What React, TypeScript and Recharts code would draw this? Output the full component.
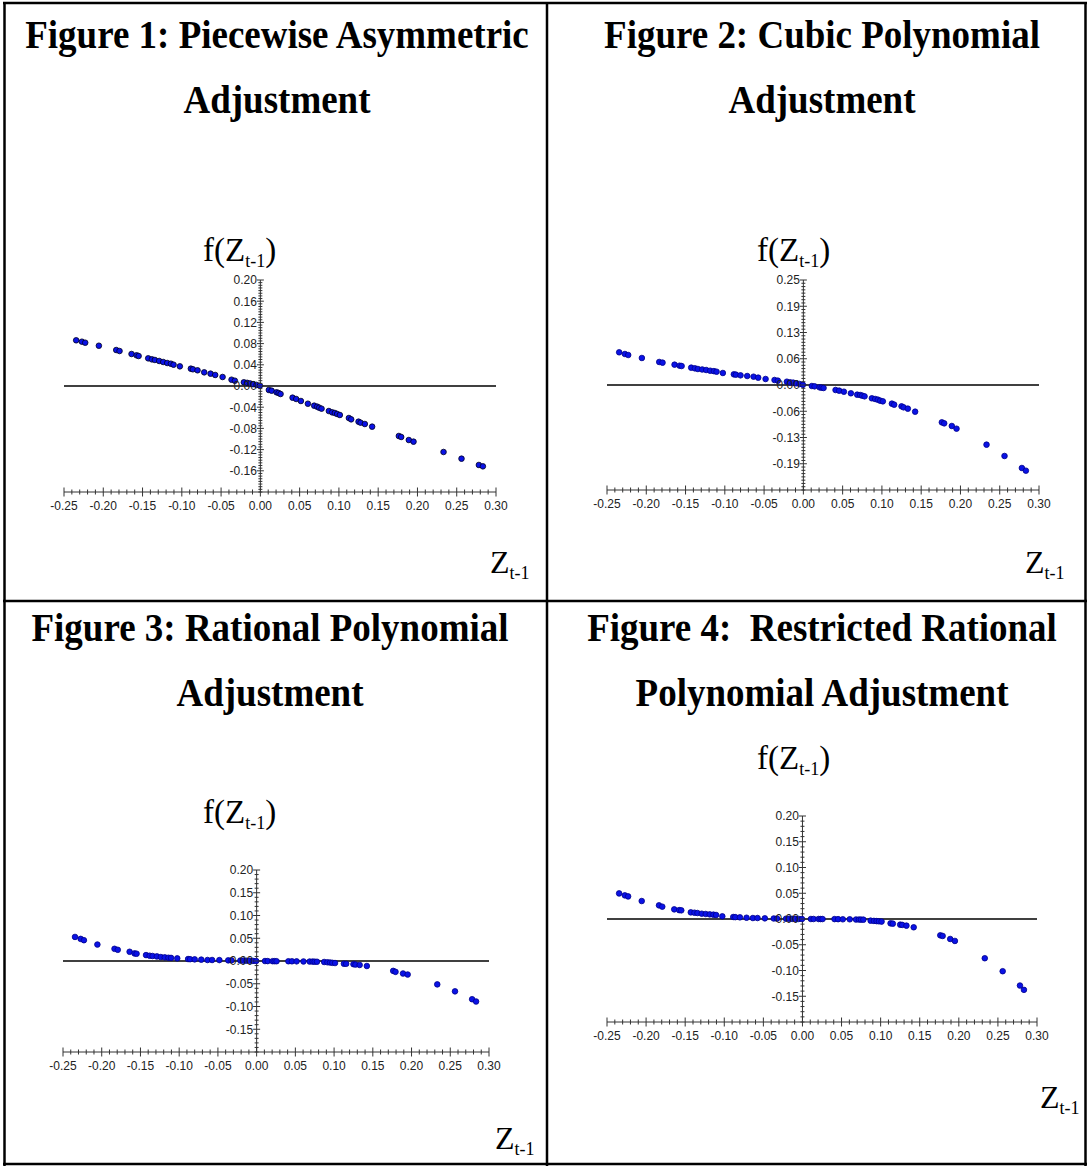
import React from "react";
import { ScatterChart, Scatter, XAxis, YAxis, ReferenceLine } from "recharts";

// lagged disequilibrium Z(t-1), shared by all four figures
const zLag = [
  -0.2345, -0.2272, -0.223, -0.2056, -0.1835, -0.1793, -0.164, -0.1576, -0.155, -0.1428,
  -0.1381, -0.1343, -0.1288, -0.1237, -0.1186, -0.1139, -0.1105, -0.1025, -0.0885, -0.0859,
  -0.08, -0.0715, -0.0634, -0.0575, -0.0481, -0.0367, -0.0325, -0.021, -0.0168, -0.013,
  -0.0092, -0.0048, -0.0006, 0.0108, 0.0143, 0.0206, 0.0232, 0.0257, 0.041, 0.0456,
  0.0516, 0.0605, 0.0685, 0.0723, 0.0749, 0.0779, 0.0872, 0.0914, 0.0948, 0.0978,
  0.1012, 0.1127, 0.1156, 0.125, 0.1276, 0.133, 0.1423, 0.1763, 0.1793, 0.189,
  0.195, 0.2332, 0.2561, 0.2782, 0.2833,
];

const fPiecewise = [
  0.0862, 0.0836, 0.0817, 0.076, 0.0679, 0.066, 0.0604, 0.0579, 0.0566, 0.0522,
  0.0503, 0.0491, 0.0472, 0.0453, 0.0434, 0.0421, 0.0402, 0.0371, 0.0327, 0.0315,
  0.0296, 0.0258, 0.0233, 0.0208, 0.017, 0.0119, 0.01, 0.007, 0.006, 0.0048,
  0.0035, 0.002, 0.0005, -0.0075, -0.0088, -0.0119, -0.0132, -0.0151, -0.022, -0.0245,
  -0.0283, -0.0334, -0.0371, -0.039, -0.0409, -0.0428, -0.0472, -0.0497, -0.0509, -0.0528,
  -0.0547, -0.0604, -0.0629, -0.0673, -0.0692, -0.0717, -0.0767, -0.0943, -0.0962, -0.1019,
  -0.105, -0.1245, -0.1371, -0.149, -0.1516,
];

const fCubic = [
  0.0778, 0.0738, 0.0714, 0.0643, 0.0548, 0.0532, 0.0484, 0.046, 0.0452, 0.0413,
  0.0397, 0.0381, 0.037, 0.0357, 0.034, 0.033, 0.0317, 0.0286, 0.0254, 0.0246,
  0.023, 0.0214, 0.0198, 0.0175, 0.0143, 0.0119, 0.0103, 0.0079, 0.0063, 0.0056,
  0.004, 0.0024, 0.0005, -0.0024, -0.0032, -0.0056, -0.0063, -0.0071, -0.0119, -0.0135,
  -0.0159, -0.0198, -0.023, -0.0238, -0.0254, -0.027, -0.0317, -0.0333, -0.0349, -0.0373,
  -0.0389, -0.0444, -0.0468, -0.0508, -0.0532, -0.0563, -0.0635, -0.0889, -0.0913, -0.0976,
  -0.104, -0.142, -0.169, -0.1976, -0.204,
];

const fRational = [
  0.0529, 0.0486, 0.0457, 0.0362, 0.0268, 0.0246, 0.0203, 0.0167, 0.016, 0.013,
  0.0116, 0.011, 0.0101, 0.0087, 0.008, 0.0072, 0.0068, 0.0058, 0.0043, 0.004,
  0.0036, 0.003, 0.0022, 0.0022, 0.002, 0.0014, 0.0014, 0.001, 0.0008, 0.0006,
  0.0004, 0.0002, 0.0, -0.0001, -0.0002, -0.0004, -0.0004, -0.0005, -0.0006, -0.0007,
  -0.0008, -0.001, -0.0012, -0.0013, -0.0015, -0.0016, -0.0022, -0.0028, -0.0034, -0.004,
  -0.0045, -0.006, -0.0062, -0.007, -0.0078, -0.0087, -0.011, -0.0217, -0.0239, -0.0275,
  -0.0297, -0.0514, -0.0667, -0.084, -0.089,
];

const fRestricted = [
  0.0497, 0.0459, 0.0439, 0.0349, 0.0265, 0.0239, 0.0187, 0.0172, 0.0168, 0.0129,
  0.0122, 0.0116, 0.0103, 0.0097, 0.009, 0.0084, 0.0078, 0.0052, 0.0039, 0.0036,
  0.0032, 0.0025, 0.0019, 0.0019, 0.0013, 0.001, 0.0008, 0.0006, 0.0004, 0.0003,
  0.0002, 0.0001, 0.0, 0.0, 0.0, 0.0, -0.0001, -0.0001, -0.0002, -0.0003,
  -0.0006, -0.0006, -0.001, -0.0011, -0.0012, -0.0013, -0.0032, -0.0037, -0.0041, -0.0045,
  -0.005, -0.0084, -0.009, -0.011, -0.0115, -0.0129, -0.0161, -0.0317, -0.0329, -0.0388,
  -0.0426, -0.0762, -0.1014, -0.1292, -0.1376,
];

const xTicks = [-0.25, -0.2, -0.15, -0.1, -0.05, 0, 0.05, 0.1, 0.15, 0.2, 0.25, 0.3];
const yTicksPiecewise = [0.2, 0.16, 0.12, 0.08, 0.04, 0, -0.04, -0.08, -0.12, -0.16];
const yTicksCubic = [0.25, 0.1875, 0.125, 0.0625, 0, -0.0625, -0.125, -0.1875];
const yTicksRational = [0.2, 0.15, 0.1, 0.05, 0, -0.05, -0.1, -0.15];

const titles = [
  ["Figure 1: Piecewise Asymmetric", "Adjustment"],
  ["Figure 2: Cubic Polynomial", "Adjustment"],
  ["Figure 3: Rational Polynomial", "Adjustment"],
  ["Figure 4:  Restricted Rational", "Polynomial Adjustment"],
];

const X_MIN = -0.25;
const X_MAX = 0.3;
const M = { top: 10, right: 22, bottom: 4, left: 14 };
const Y_W = 10;
const X_H = 30;
const SANS = "'Liberation Sans', Arial, sans-serif";
const SERIF = "'Liberation Serif', 'Times New Roman', serif";

function steps(from: number, to: number, step: number) {
  const out: number[] = [];
  const n = Math.round((to - from) / step);
  for (let i = 0; i <= n; i++) out.push(+(from + i * step).toFixed(6));
  return out;
}

const isMajor = (v: number, list: number[]) => list.some((t) => Math.abs(t - v) < 1e-6);

interface Spec {
  left: number;
  top: number;
  w: number;
  h: number;
  yMin: number;
  yMax: number;
  yMajor: number[];
  yMinorStep: number;
  values: number[];
  edge: string;
}

const specs: Spec[] = [
  { left: 64, top: 280, w: 432, h: 212, yMin: -0.2, yMax: 0.2, yMajor: yTicksPiecewise, yMinorStep: 0.005, values: fPiecewise, edge: "#000022" },
  { left: 607, top: 280, w: 432, h: 210, yMin: -0.25, yMax: 0.25, yMajor: yTicksCubic, yMinorStep: 0.0078125, values: fCubic, edge: "#00008a" },
  { left: 63, top: 870, w: 426, h: 182, yMin: -0.2, yMax: 0.2, yMajor: yTicksRational, yMinorStep: 0.01, values: fRational, edge: "#00008a" },
  { left: 607, top: 816, w: 430, h: 206, yMin: -0.2, yMax: 0.2, yMajor: yTicksRational, yMinorStep: 0.01, values: fRestricted, edge: "#00008a" },
];

function Panel({ spec }: { spec: Spec }) {
  const width = spec.w + M.left + Y_W + M.right;
  const height = spec.h + M.top + X_H + M.bottom;
  const zeroX = M.left + Y_W + (spec.w * (0 - X_MIN)) / (X_MAX - X_MIN);
  const axisY = M.top + spec.h;
  const data = zLag.map((z, i) => ({ z, f: spec.values[i] }));
  const xAll = steps(X_MIN, X_MAX, 0.01);
  const yAll = steps(spec.yMin, spec.yMax, spec.yMinorStep);

  const xTick = (p: any) => {
    const v = p.payload.value;
    const major = isMajor(v, xTicks);
    const s = major ? 4.5 : 2.5;
    return (
      <g>
        <line x1={p.x} x2={p.x} y1={axisY - s} y2={axisY + s} stroke="#333" strokeWidth={1} />
        {major && (
          <text x={p.x} y={axisY + 18} textAnchor="middle" fontFamily={SANS} fontSize={12} fill="#222">
            {v.toFixed(2)}
          </text>
        )}
      </g>
    );
  };

  const yTick = (p: any) => {
    const v = p.payload.value;
    const major = isMajor(v, spec.yMajor);
    const s = major ? 3.5 : 2;
    return (
      <g>
        <line x1={zeroX - s} x2={zeroX + s} y1={p.y} y2={p.y} stroke="#333" strokeWidth={1} />
        {major && (
          <text x={zeroX - 3.5} y={p.y + 4.3} textAnchor="end" fontFamily={SANS} fontSize={12} fill="#222">
            {v.toFixed(2)}
          </text>
        )}
      </g>
    );
  };

  const dot = (p: any) => (
    <circle cx={p.cx} cy={p.cy} r={2.8} fill="#0a12e6" stroke={spec.edge} strokeWidth={0.8} />
  );

  return (
    <div style={{ position: "absolute", left: spec.left - M.left - Y_W, top: spec.top - M.top }}>
      <ScatterChart width={width} height={height} margin={M}>
        <XAxis
          type="number"
          dataKey="z"
          domain={[X_MIN, X_MAX]}
          ticks={xAll}
          interval={0}
          height={X_H}
          tickLine={false}
          tickSize={0}
          axisLine={{ stroke: "#333" }}
          tick={xTick}
          allowDataOverflow
        />
        <YAxis
          type="number"
          dataKey="f"
          domain={[spec.yMin, spec.yMax]}
          ticks={yAll}
          interval={0}
          width={Y_W}
          tickLine={false}
          tickSize={0}
          axisLine={false}
          tick={yTick}
          allowDataOverflow
        />
        <ReferenceLine x={0} stroke="#333" strokeWidth={1} />
        <ReferenceLine y={0} stroke="#000" strokeWidth={1.3} />
        <Scatter data={data} isAnimationActive={false} shape={dot} />
      </ScatterChart>
    </div>
  );
}

// text anchors for the four cells: title centre, f(Z) label, Z label
const cells = [
  { cx: 277, t1: 48, t2: 113, fx: 203, fy: 261, zx: 490, zy: 573 },
  { cx: 822, t1: 48, t2: 113, fx: 757, fy: 261, zx: 1025, zy: 573 },
  { cx: 270, t1: 641, t2: 706, fx: 203, fy: 823, zx: 495, zy: 1149 },
  { cx: 822, t1: 641, t2: 706, fx: 757, fy: 769, zx: 1040, zy: 1108 },
];

const Title = ({ x, y, text }: { x: number; y: number; text: string }) => (
  <text
    transform={`translate(${x},${y}) scale(1,1.1)`}
    textAnchor="middle"
    fontFamily={SERIF}
    fontWeight="bold"
    fontSize={37}
    style={{ whiteSpace: "pre" }}
  >
    {text}
  </text>
);

export default function App() {
  return (
    <div style={{ position: "absolute", left: 0, top: 0, width: 1087, height: 1167, background: "#fff" }}>
      {specs.map((s, i) => (
        <Panel key={i} spec={s} />
      ))}
      <svg width={1087} height={1167} style={{ position: "absolute", left: 0, top: 0, pointerEvents: "none" }}>
        <g stroke="#000" strokeWidth={2.5}>
          <line x1={3} y1={3} x2={1087} y2={3} />
          <line x1={3} y1={1164} x2={1087} y2={1164} />
          <line x1={4.5} y1={2} x2={4.5} y2={1166} />
          <line x1={1085.5} y1={2} x2={1085.5} y2={1166} />
          <line x1={547} y1={2} x2={547} y2={1166} />
          <line x1={3} y1={601} x2={1087} y2={601} />
        </g>
        {cells.map((c, i) => (
          <g key={i}>
            <Title x={c.cx} y={c.t1} text={titles[i][0]} />
            <Title x={c.cx} y={c.t2} text={titles[i][1]} />
            <text x={c.fx} y={c.fy} fontFamily={SERIF} fontSize={33}>
              f(Z
              <tspan fontSize={18} dy={6}>t-1</tspan>
              <tspan dy={-6}>)</tspan>
            </text>
            <text x={c.zx} y={c.zy} fontFamily={SERIF} fontSize={32}>
              Z<tspan fontSize={18} dy={6}>t-1</tspan>
            </text>
          </g>
        ))}
      </svg>
    </div>
  );
}
